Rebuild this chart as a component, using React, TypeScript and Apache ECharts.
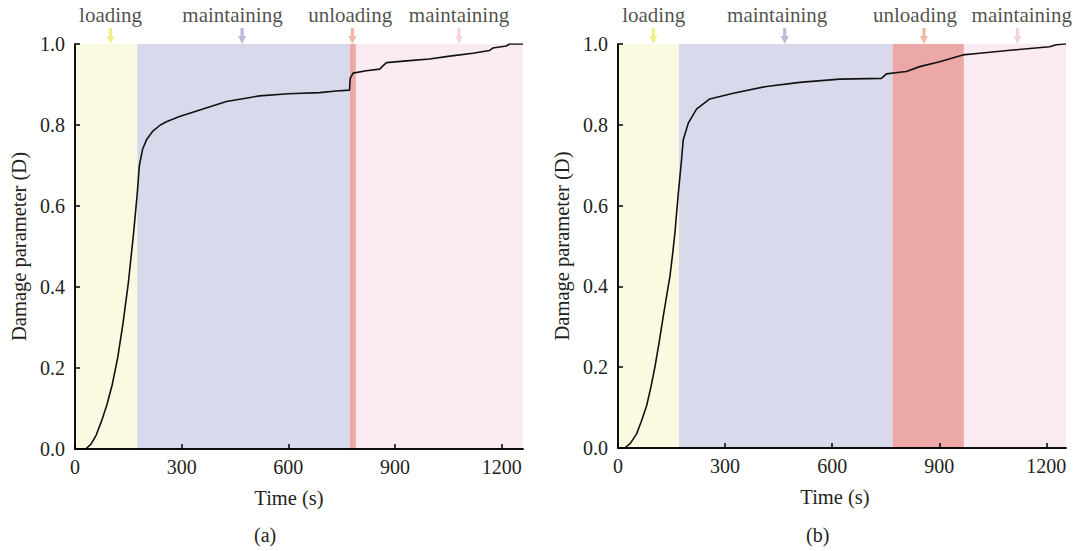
import React, { useEffect, useRef } from "react";
import * as echarts from "echarts";

// ---------- data ----------
const timeA = [0, 30, 45, 60, 75, 90, 105, 120, 135, 150, 165, 175, 181, 190, 202, 219, 240, 257, 294, 351, 426, 519, 600, 688, 735, 772, 774, 782, 819, 857, 866, 876, 941, 997, 1054, 1119, 1166, 1175, 1213, 1222, 1260];
const damageA = [0, 0, 0.012, 0.035, 0.07, 0.11, 0.16, 0.225, 0.31, 0.41, 0.535, 0.63, 0.70, 0.74, 0.765, 0.785, 0.80, 0.808, 0.821, 0.837, 0.858, 0.872, 0.877, 0.880, 0.884, 0.886, 0.915, 0.928, 0.934, 0.938, 0.946, 0.954, 0.959, 0.963, 0.970, 0.977, 0.984, 0.990, 0.995, 1.0, 1.0];

const timeB = [0, 19, 35, 52, 65, 80, 92, 104, 115, 127, 137, 145.5, 153, 159.5, 165, 169, 173.5, 178, 182.8, 196.8, 220, 257, 323, 416, 509, 621, 738, 752, 789, 808, 845, 901, 966, 1013, 1106, 1209, 1228, 1251, 1255];
const damageB = [0, 0, 0.012, 0.035, 0.065, 0.104, 0.15, 0.203, 0.26, 0.327, 0.38, 0.425, 0.48, 0.533, 0.59, 0.631, 0.672, 0.714, 0.763, 0.804, 0.839, 0.864, 0.878, 0.895, 0.905, 0.913, 0.915, 0.926, 0.930, 0.932, 0.944, 0.956, 0.973, 0.977, 0.985, 0.993, 0.998, 1.0, 1.0];

const phaseNames = ["loading", "maintaining", "unloading", "maintaining"];
const phaseEdgesA = [0, 175, 773, 790, 1260];
const phaseEdgesB = [0, 171, 769, 969, 1255];
const arrowTimesA = [100, 470, 780, 1080];
const arrowTimesB = [99, 467, 857, 1119];
const labelTimesA = [100, 443, 774, 1080];
const labelTimesB = [100, 446, 832, 1131];

const xTicks = [0, 300, 600, 900, 1200];
const yTicks = [0, 0.2, 0.4, 0.6, 0.8, 1.0];
const panelLabels = ["(a)", "(b)"];

// ---------- styles ----------
const phaseColors = ["#fafae2", "#d9d9ec", "#eba8a7", "#faeaf2"];
const arrowColors = ["#efe86a", "#b3a6d1", "#eaa68a", "#f2c8da"];
const FONT = "'Liberation Serif', 'Times New Roman', serif";
const TEXT = "#231f20";
const ARROW = "path://M3 0 L7 0 L7 10 L10 10 L5 20 L0 10 L3 10 Z";

function buildPanel(idx: number, times: number[], damage: number[], edges: number[], arrows: number[], labels: number[]) {
  const xMax = edges[edges.length - 1];
  const xi = idx * 2;
  const yi = idx * 2;
  const xAxes = [
    {
      type: "value",
      gridIndex: idx,
      min: 0,
      max: xMax,
      interval: 300,
      z: 10,
      position: "bottom",
      axisLine: { show: true, lineStyle: { color: "#000", width: 1.5 } },
      axisTick: { show: true, inside: true, length: 5, lineStyle: { color: "#000", width: 1.5 } },
      axisLabel: {
        show: true,
        margin: 8,
        color: TEXT,
        fontFamily: FONT,
        fontSize: 20,
        showMaxLabel: false,
        formatter: (v: number) => (xTicks.indexOf(v) >= 0 ? String(v) : ""),
      },
      splitLine: { show: false },
      name: "Time (s)",
      nameLocation: "middle",
      nameGap: 38,
      nameTextStyle: { color: TEXT, fontFamily: FONT, fontSize: 20.5, padding: idx === 0 ? [0, 20, 0, 0] : [0, 14, 0, 0] },
    },
    {
      type: "value",
      gridIndex: idx,
      min: 0,
      max: xMax,
      position: "top",
      z: 10,
      axisLine: { show: true, lineStyle: { color: "#000", width: 1.5 } },
      axisTick: { show: false },
      axisLabel: { show: false },
      splitLine: { show: false },
    },
  ];
  const yAxes = [
    {
      type: "value",
      gridIndex: idx,
      min: 0,
      max: 1,
      interval: 0.2,
      z: 10,
      position: "left",
      axisLine: { show: true, lineStyle: { color: "#000", width: 1.5 } },
      axisTick: { show: true, inside: true, length: 5, lineStyle: { color: "#000", width: 1.5 } },
      axisLabel: {
        show: true,
        margin: 10,
        color: TEXT,
        fontFamily: FONT,
        fontSize: 20,
        formatter: (v: number) => {
          const hit = yTicks.find((t) => Math.abs(t - v) < 1e-6);
          return hit === undefined ? "" : hit.toFixed(1);
        },
      },
      splitLine: { show: false },
      name: "Damage parameter (D)",
      nameLocation: "middle",
      nameGap: 46,
      nameTextStyle: { color: TEXT, fontFamily: FONT, fontSize: 20.5 },
    },
    {
      type: "value",
      gridIndex: idx,
      min: 0,
      max: 1,
      position: "right",
      z: 10,
      axisLine: { show: true, lineStyle: { color: "#000", width: 1.5 } },
      axisTick: { show: false },
      axisLabel: { show: false },
      splitLine: { show: false },
    },
  ];

  const areas = phaseColors.map((c, i) => [
    { xAxis: edges[i], itemStyle: { color: c } },
    { xAxis: edges[i + 1] },
  ]);

  const series = [
    {
      type: "line",
      xAxisIndex: xi,
      yAxisIndex: yi,
      data: [[0, 0], [xMax, 0]],
      symbol: "none",
      lineStyle: { opacity: 0 },
      silent: true,
      z: 1,
      markArea: { silent: true, itemStyle: { opacity: 1 }, data: areas },
    },
    {
      type: "line",
      xAxisIndex: xi,
      yAxisIndex: yi,
      data: times.map((t, i) => [t, damage[i]]),
      symbol: "none",
      lineStyle: { color: "#111", width: 1.6 },
      z: 3,
    },
    {
      type: "scatter",
      xAxisIndex: xi,
      yAxisIndex: yi,
      clip: false,
      symbol: ARROW,
      symbolSize: [8, 16],
      symbolOffset: [0, "-50%"],
      z: 6,
      silent: true,
      data: arrows.map((t, i) => ({ value: [t, 1], itemStyle: { color: arrowColors[i] } })),
    },
    {
      type: "scatter",
      xAxisIndex: xi,
      yAxisIndex: yi,
      clip: false,
      symbolSize: 1,
      itemStyle: { color: "rgba(0,0,0,0)" },
      z: 6,
      silent: true,
      label: {
        show: true,
        position: "top",
        distance: 18,
        formatter: "{b}",
        color: TEXT,
        fontFamily: FONT,
        fontSize: 21,
      },
      data: labels.map((t, i) => ({ value: [t, 1], name: phaseNames[i] })),
    },
  ];
  return { xAxes, yAxes, series };
}

export default function App() {
  const ref = useRef<HTMLDivElement>(null);
  useEffect(() => {
    document.body.style.margin = "0";
    if (!ref.current) return;
    const chart = echarts.init(ref.current, undefined, { renderer: "svg" });
    const pA = buildPanel(0, timeA, damageA, phaseEdgesA, arrowTimesA, labelTimesA);
    const pB = buildPanel(1, timeB, damageB, phaseEdgesB, arrowTimesB, labelTimesB);
    chart.setOption({
      animation: false,
      backgroundColor: "#ffffff",
      grid: [
        { left: 75, top: 44, width: 448, height: 405 },
        { left: 618, top: 44, width: 448, height: 404 },
      ],
      xAxis: [...pA.xAxes, ...pB.xAxes],
      yAxis: [...pA.yAxes, ...pB.yAxes],
      series: [...pA.series, ...pB.series],
      graphic: [
        { type: "text", left: 254, top: 525, style: { text: panelLabels[0], fill: TEXT, font: `20px ${FONT}` } },
        { type: "text", left: 806, top: 525, style: { text: panelLabels[1], fill: TEXT, font: `20px ${FONT}` } },
      ],
    });
    return () => chart.dispose();
  }, []);
  return <div ref={ref} style={{ width: 1075, height: 551 }} />;
}
